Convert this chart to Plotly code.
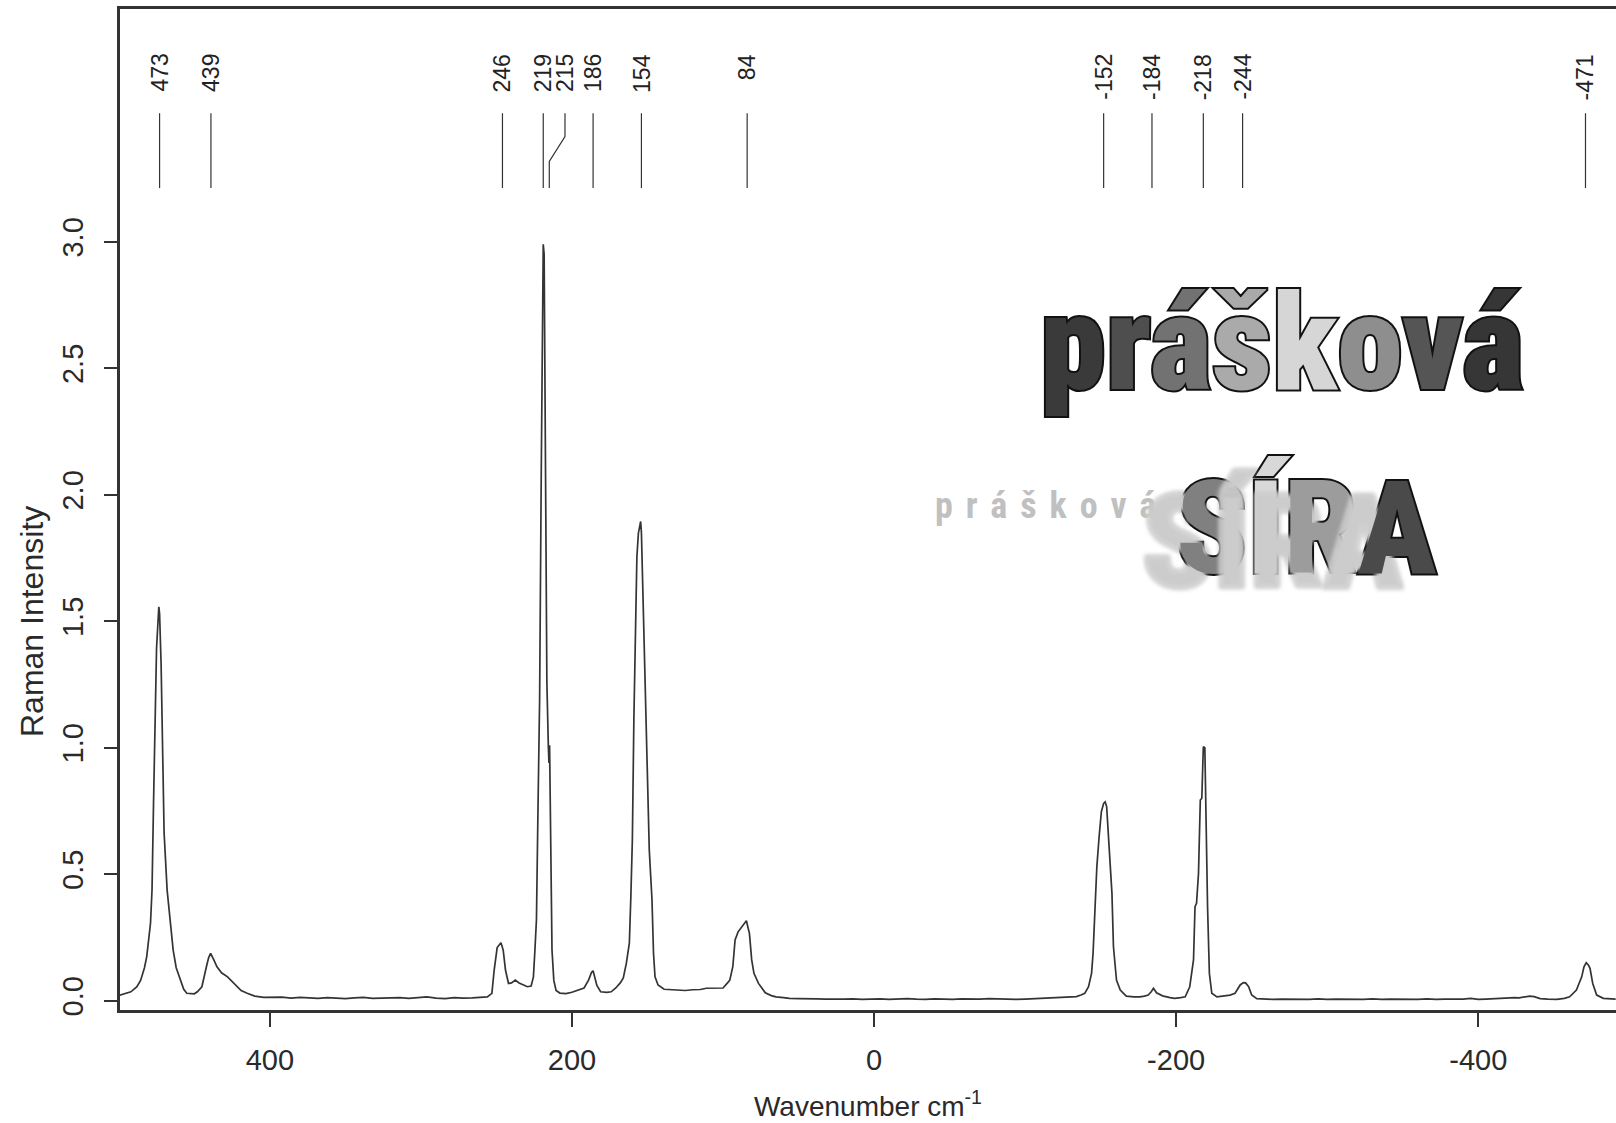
import plotly.graph_objects as go

# ---------------- data ----------------
wavenumber = [
    500, 496, 492, 488, 485.5, 483, 481.5, 479, 478, 477,
    476, 475, 473.5, 473, 472, 471, 470, 468, 466, 464,
    462, 459, 457, 455, 450, 448, 445, 442, 440.5, 439.2,
    438.5, 437, 435, 432, 428, 425, 422, 419, 415, 410,
    404, 398, 392, 386, 380, 374, 368, 362, 356, 350,
    344, 338, 332, 326, 320, 314, 308, 302, 296, 290,
    284, 278, 272, 266, 260, 256, 253, 251.5, 249.5, 247,
    245.5, 244, 242, 240, 237.5, 235, 232, 229.5, 227, 225.5,
    224.5, 223.5, 222.5, 221.4, 220.3, 219.4, 219.0, 218.4, 217.6, 216.6,
    215.6, 215.2, 214.8, 214.2, 213.2, 212, 210.5, 208, 204, 200,
    196, 192, 189, 187, 186, 185, 183.5, 181, 177, 174,
    171, 168, 166, 164, 162, 161, 160, 159, 158, 157,
    156, 155, 154.5, 154, 153, 152, 151, 149.7, 148.8, 147,
    146, 145, 143, 139, 135, 130, 125, 120, 115, 111,
    105, 100, 97, 95.5, 93.5, 92, 90, 87.5, 85.5, 84.5,
    83.5, 82.5, 81, 79.5, 76.5, 74, 72, 68, 65, 60,
    56, 50, 44, 38, 32, 26, 20, 14, 8, 2,
    -4, -10, -16, -22, -28, -34, -40, -46, -52, -58,
    -64, -70, -76, -82, -88, -94, -100, -106, -112, -118,
    -124, -130, -134, -137, -139.5, -142, -144, -145, -146, -147.5,
    -149, -150.5, -152, -153, -154, -155, -156, -157.5, -158.5, -160.5,
    -163, -167, -172, -176, -179, -181.5, -183.5, -185, -187, -191,
    -196, -199, -203, -206, -209, -211.5, -212.5, -213.5, -214.8, -216,
    -217, -218, -219, -219.8, -220.8, -222, -223.6, -227, -231, -235.7,
    -239, -242.4, -244.5, -246, -248, -250, -253.4, -258, -264, -270,
    -276, -282, -288, -294, -300, -306, -312, -318, -324, -330,
    -336, -342, -348, -354, -360, -366, -372, -378, -384, -390,
    -395, -400, -405, -410, -415, -420, -424, -427, -431, -434,
    -437, -441, -446, -452, -457, -460.5, -465, -468.5, -470, -471.5,
    -473, -474, -475.8, -478.4, -482.8, -487, -491,
]

intensity = [
    0.020, 0.026, 0.035, 0.055, 0.081, 0.13, 0.174, 0.306, 0.437, 0.78,
    1.098, 1.393, 1.557, 1.53, 1.334, 1.017, 0.663, 0.437, 0.306, 0.20,
    0.13, 0.081, 0.045, 0.029, 0.027, 0.035, 0.055, 0.134, 0.17, 0.187,
    0.18, 0.16, 0.134, 0.11, 0.094, 0.075, 0.055, 0.04, 0.029, 0.018,
    0.013, 0.012, 0.014, 0.010, 0.013, 0.011, 0.009, 0.012, 0.010, 0.008,
    0.011, 0.013, 0.009, 0.011, 0.010, 0.012, 0.009, 0.011, 0.015, 0.010,
    0.008, 0.012, 0.010, 0.011, 0.012, 0.015, 0.029, 0.12, 0.21, 0.229,
    0.20, 0.121, 0.068, 0.07, 0.081, 0.07, 0.062, 0.055, 0.058, 0.094,
    0.20, 0.32, 0.75, 1.19, 2.10, 2.93, 2.99, 2.95, 2.22, 1.26,
    1.00, 0.94, 1.01, 0.60, 0.20, 0.08, 0.04, 0.03, 0.028, 0.033,
    0.04, 0.05, 0.081, 0.112, 0.118, 0.09, 0.06, 0.035, 0.033, 0.035,
    0.05, 0.07, 0.09, 0.147, 0.227, 0.411, 0.635, 1.11, 1.426, 1.755,
    1.848, 1.875, 1.894, 1.85, 1.597, 1.347, 1.057, 0.82, 0.595, 0.398,
    0.187, 0.094, 0.062, 0.045, 0.043, 0.042, 0.040, 0.043, 0.044, 0.049,
    0.048, 0.050, 0.07, 0.081, 0.134, 0.24, 0.272, 0.292, 0.31, 0.316,
    0.29, 0.266, 0.161, 0.108, 0.068, 0.045, 0.031, 0.020, 0.015, 0.012,
    0.009, 0.008, 0.006, 0.007, 0.006, 0.005, 0.006, 0.007, 0.005, 0.006,
    0.007, 0.005, 0.006, 0.008, 0.006, 0.005, 0.007, 0.006, 0.005, 0.007,
    0.006, 0.006, 0.008, 0.006, 0.007, 0.005, 0.006, 0.008, 0.009, 0.012,
    0.013, 0.014, 0.016, 0.022, 0.029, 0.055, 0.108, 0.187, 0.345, 0.529,
    0.648, 0.747, 0.78, 0.786, 0.767, 0.662, 0.543, 0.424, 0.213, 0.081,
    0.042, 0.018, 0.015, 0.015, 0.018, 0.022, 0.035, 0.049, 0.031, 0.019,
    0.012, 0.009, 0.012, 0.015, 0.055, 0.161, 0.371, 0.385, 0.503, 0.793,
    0.80, 1.004, 1.00, 0.662, 0.371, 0.108, 0.029, 0.015, 0.018, 0.022,
    0.029, 0.062, 0.071, 0.07, 0.055, 0.022, 0.008, 0.006, 0.005, 0.006,
    0.005, 0.006, 0.005, 0.007, 0.005, 0.006, 0.005, 0.006, 0.005, 0.007,
    0.005, 0.006, 0.005, 0.006, 0.005, 0.007, 0.005, 0.006, 0.005, 0.006,
    0.009, 0.005, 0.006, 0.008, 0.009, 0.011, 0.012, 0.011, 0.015, 0.018,
    0.016, 0.008, 0.006, 0.005, 0.009, 0.015, 0.042, 0.094, 0.134, 0.15,
    0.14, 0.128, 0.068, 0.022, 0.009, 0.007, 0.006,
]
assert len(wavenumber) == len(intensity)

peak_values = [473, 439, 246, 219, 215, 186, 154, 84, -152, -184, -218, -244, -471]
label_positions = [473, 439, 246, 219, 204.6, 186, 154, 84, -152, -184, -218, -244, -471]

x_tick_values = [400, 200, 0, -200, -400]
x_tick_labels = ["400", "200", "0", "-200", "-400"]
y_tick_values = [0.0, 0.5, 1.0, 1.5, 2.0, 2.5, 3.0]
y_tick_labels = ["0.0", "0.5", "1.0", "1.5", "2.0", "2.5", "3.0"]

x_title = "Wavenumber cm<sup>-1</sup>"
y_title = "Raman Intensity"

title_word1 = "prášková"
title_word1_colors = ["#3a3a3a", "#4e4e4e", "#727272", "#aaaaaa", "#d6d6d6", "#8e8e8e", "#555555", "#363636"]
title_word2 = "SÍRA"
title_word2_colors = ["#808080", "#d8d8d8", "#9c9c9c", "#4a4a4a"]

# ---------------- styling / layout constants ----------------
FONT = "Liberation Sans, Arial, Helvetica, sans-serif"
ART_FONT = "Roboto Condensed, DejaVu Sans Condensed, Liberation Sans, sans-serif"
LINE_Y = (3.212, 3.317, 3.416, 3.508)   # peak marker segment heights (data units)
LABEL_TOP = 3.75

W, H = 1616, 1123
ML, MR, MT, MB = 120, 0, 9, 113


def px_to_paper_x(px):
    return (px - ML) / (W - ML - MR)


def px_to_paper_y(py):
    return (H - MB - py) / (H - MT - MB)


# peak marker lines (kinked where the label was spread out)
mark_x, mark_y = [], []
for p, q in zip(peak_values, label_positions):
    mark_x += [p, p, q, q, None]
    mark_y += [LINE_Y[0], LINE_Y[1], LINE_Y[2], LINE_Y[3], None]

fig = go.Figure()
fig.add_trace(go.Scatter(x=wavenumber, y=intensity, mode="lines",
                         line=dict(color="#343434", width=1.7),
                         hoverinfo="skip", showlegend=False))
fig.add_trace(go.Scatter(x=mark_x, y=mark_y, mode="lines",
                         line=dict(color="#333333", width=1.2),
                         hoverinfo="skip", showlegend=False))

annotations = []
for p, q in zip(peak_values, label_positions):
    annotations.append(dict(x=q, y=LABEL_TOP, xref="x", yref="y", text=str(p),
                            textangle=-90, showarrow=False, xanchor="center", yanchor="top",
                            font=dict(family=FONT, size=23, color="#222222")))

annotations.append(dict(x=px_to_paper_x(32), y=px_to_paper_y(622), xref="paper", yref="paper",
                        text=y_title, textangle=-90, showarrow=False,
                        xanchor="center", yanchor="middle",
                        font=dict(family=FONT, size=32, color="#2a2a2a")))


def art(word, colors, stroke):
    return "".join(
        f'<span style="color:{c};stroke:#121212;stroke-width:{stroke}px;paint-order:stroke">{ch}</span>'
        for ch, c in zip(word, colors))


# flattened grey shadow of the first word, left of the second word
annotations.append(dict(x=px_to_paper_x(933), y=px_to_paper_y(506), xref="paper", yref="paper",
                        text=f'<span style="letter-spacing:13px">{title_word1}</span>',
                        showarrow=False, xanchor="left", yanchor="middle",
                        font=dict(family=ART_FONT, size=36, weight=700, color="#c0c0c0")))

annotations.append(dict(x=px_to_paper_x(1282), y=px_to_paper_y(343), xref="paper", yref="paper",
                        text=art(title_word1, title_word1_colors, 4), showarrow=False,
                        xanchor="center", yanchor="middle",
                        font=dict(family=ART_FONT, size=133, weight=900)))
annotations.append(dict(x=px_to_paper_x(1306), y=px_to_paper_y(528), xref="paper", yref="paper",
                        text=art(title_word2, title_word2_colors, 4), showarrow=False,
                        xanchor="center", yanchor="middle",
                        font=dict(family=ART_FONT, size=130, weight=900,
                                  shadow="-34px 14px 4px #cccccc")))

fig.update_layout(
    width=W, height=H,
    margin=dict(l=ML, r=MR, t=MT, b=MB, autoexpand=False),
    paper_bgcolor="white", plot_bgcolor="white",
    font=dict(family=FONT, color="#2a2a2a"),
    showlegend=False,
    annotations=annotations,
)
fig.update_xaxes(range=[499.2, -491.2], tickmode="array", tickvals=x_tick_values, ticktext=x_tick_labels,
                 ticks="outside", ticklen=14, tickwidth=1.5, tickcolor="#333333",
                 showline=True, linewidth=2.5, linecolor="#333333", mirror=True,
                 showgrid=False, zeroline=False, ticklabelstandoff=8,
                 tickfont=dict(family=FONT, size=29, color="#2a2a2a"),
                 title=dict(text=x_title, font=dict(family=FONT, size=28, color="#2a2a2a"), standoff=22))
fig.update_yaxes(range=[-0.037, 3.92], tickmode="array", tickvals=y_tick_values, ticktext=y_tick_labels,
                 tickangle=-90, ticks="outside", ticklen=13, tickwidth=1.5, tickcolor="#333333",
                 showline=True, linewidth=2.5, linecolor="#333333", mirror=False,
                 showgrid=False, zeroline=False, ticklabelstandoff=10,
                 tickfont=dict(family=FONT, size=29, color="#2a2a2a"))

fig.write_html("out.html", config={"displayModeBar": False},
               post_script="document.body.style.margin='0';document.body.style.overflow='hidden';")
